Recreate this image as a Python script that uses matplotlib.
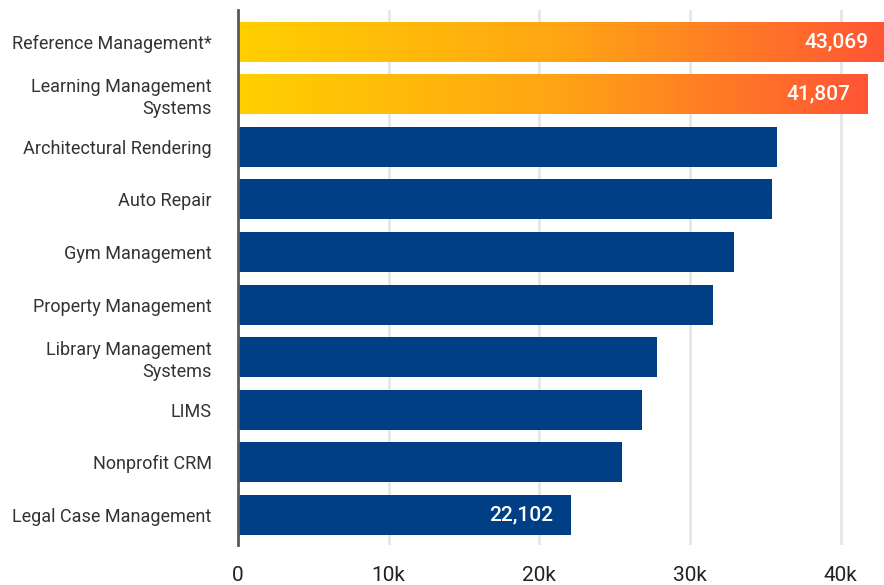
import numpy as np
import matplotlib.pyplot as plt
from matplotlib.colors import LinearSegmentedColormap
from matplotlib.ticker import FuncFormatter

categories = ["Reference Management*", "Learning Management\nSystems",
              "Architectural Rendering", "Auto Repair", "Gym Management",
              "Property Management", "Library Management\nSystems", "LIMS",
              "Nonprofit CRM", "Legal Case Management"]
values = [43069, 41807, 35770, 35440, 32920, 31530, 27810, 26810, 25490, 22102]
highlight = [True, True, False, False, False, False, False, False, False, False]
labelled = [0, 1, 9]
ticks = [0, 10000, 20000, 30000, 40000]

plt.rcParams['font.family'] = ['Roboto', 'DejaVu Sans']

fig = plt.figure(figsize=(8.84, 5.85), dpi=100)
ax = fig.add_axes([238 / 884, 1 - 545 / 585, 1 - 238 / 884, 535 / 585])

cmap = LinearSegmentedColormap.from_list("warm", ["#FFD000", "#FFA514", "#FF5535"])
grad = np.linspace(0, 1, 256).reshape(1, -1)
bh = 0.76
xmax = 42876

y = np.arange(len(categories))
for i, (v, hl) in enumerate(zip(values, highlight)):
    if hl:
        bar = ax.barh(i, v, height=bh, color="none", zorder=3)[0]
        im = ax.imshow(grad, cmap=cmap, aspect="auto", zorder=3,
                       extent=[0, v, i + bh / 2, i - bh / 2])
        im.set_clip_path(bar)
    else:
        ax.barh(i, v, height=bh, color="#003F85", zorder=3)

for i in labelled:
    ax.annotate(f"{values[i]:,}", (values[i], i), xytext=(-13, 0),
                textcoords="offset points", ha="right", va="center",
                color="white", fontsize=15, fontweight="medium", zorder=4,
                annotation_clip=False)

ax.set_xlim(0, xmax)
ax.set_ylim(len(categories) - 1 + 0.57, -0.6)
ax.set_yticks(y)
ax.set_yticklabels(categories, fontsize=13, color="#333333", linespacing=1.3)
ax.set_xticks(ticks)
ax.xaxis.set_major_formatter(FuncFormatter(lambda v, p: "0" if v == 0 else f"{int(v / 1000)}k"))
ax.tick_params(axis="x", labelsize=15, colors="#222222", length=0, pad=15)
ax.tick_params(axis="y", length=0, pad=19)

ax.grid(axis="x", color="#E6E6E6", linewidth=2, zorder=0)
ax.set_axisbelow(True)
for s in ["top", "right", "bottom"]:
    ax.spines[s].set_visible(False)
ax.spines["left"].set_color("#5A5A5A")
ax.spines["left"].set_linewidth(2)
ax.spines["left"].set_zorder(5)

fig.savefig("out.png", dpi=100)
